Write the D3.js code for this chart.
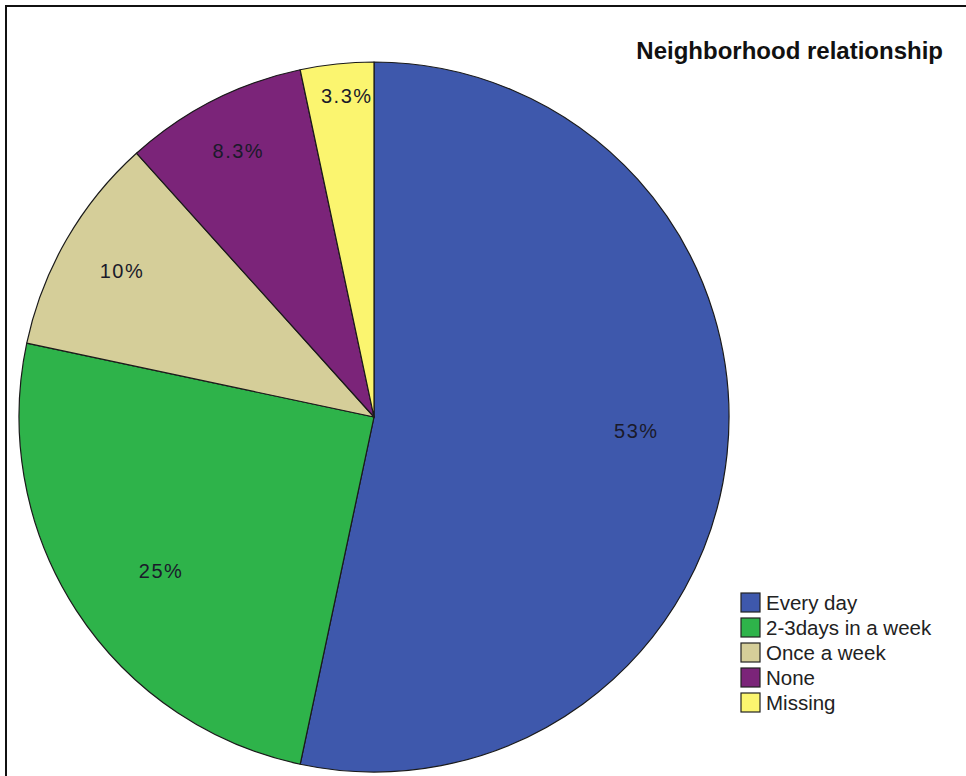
<!DOCTYPE html>
<html>
<head>
<meta charset="utf-8">
<script src="https://cdn.jsdelivr.net/npm/d3@7"></script>
<style>
html,body{margin:0;padding:0;background:#fff;}
svg{display:block;}
</style>
</head>
<body>
<svg id="chart" width="966" height="776"></svg>
<script>
const categories = ["Every day", "2-3days in a week", "Once a week", "None", "Missing"];
const counts = [32, 15, 6, 5, 2];
const percentLabels = ["53%", "25%", "10%", "8.3%", "3.3%"];
const colors = ["#3E58AC", "#2EB34A", "#D5CE99", "#7B2479", "#FBF56F"];
const title = "Neighborhood relationship";

const svg = d3.select("#chart");
const W = 966, H = 776;

// frame
svg.append("rect").attr("x", 6).attr("y", 6).attr("width", W + 20).attr("height", H + 20)
  .attr("fill", "none").attr("stroke", "#111").attr("stroke-width", 2);

const cx = 374, cy = 417, R = 355;
const total = d3.sum(counts);
const data = categories.map((c, i) => ({cat: c, value: counts[i], label: percentLabels[i], color: colors[i]}));

const pie = d3.pie().value(d => d.value).sort(null).startAngle(0).endAngle(2 * Math.PI);
const arcs = pie(data);
const arc = d3.arc().innerRadius(0).outerRadius(R);

const g = svg.append("g").attr("transform", `translate(${cx},${cy})`);
g.selectAll("path.slice").data(arcs).join("path")
  .attr("class", "slice")
  .attr("d", arc)
  .attr("fill", d => d.data.color)
  .attr("stroke", "#1a1a1a")
  .attr("stroke-width", 1.2)
  .attr("stroke-linejoin", "round");

g.selectAll("text.lbl").data(arcs).join("text")
  .attr("class", "lbl")
  .attr("transform", d => {
    const frac = d.data.value / total;
    const k = Math.max(0.74, 0.95 - 1.3 * frac);
    const a = (d.startAngle + d.endAngle) / 2 - (frac > 0.2 ? 0.05 : 0) + (frac < 0.05 ? 0.02 : 0);
    return `translate(${Math.sin(a) * R * k},${-Math.cos(a) * R * k})`;
  })
  .attr("text-anchor", "middle")
  .attr("dy", "0.35em")
  .attr("font-family", "'Liberation Sans', Arial, sans-serif")
  .attr("font-size", 20)
  .attr("letter-spacing", 1.5)
  .attr("fill", "#1a1a2a")
  .text(d => d.data.label);

// title
svg.append("text")
  .attr("x", 943).attr("y", 59)
  .attr("text-anchor", "end")
  .attr("font-family", "'Liberation Sans', Arial, sans-serif")
  .attr("font-weight", "bold")
  .attr("font-size", 24)
  .attr("fill", "#111")
  .text(title);

// legend
const lg = svg.append("g").attr("transform", "translate(741,593)");
const rowH = 25;
const rows = lg.selectAll("g").data(data).join("g")
  .attr("transform", (d, i) => `translate(0,${i * rowH})`);
rows.append("rect").attr("x", 0).attr("y", 0).attr("width", 19).attr("height", 19)
  .attr("fill", d => d.color).attr("stroke", "#222").attr("stroke-width", 1.2);
rows.append("text").attr("x", 25).attr("y", 10).attr("dy", "0.35em")
  .attr("font-family", "'Liberation Sans', Arial, sans-serif")
  .attr("font-size", 20.5)
  .attr("fill", "#222")
  .text(d => d.cat);
</script>
</body>
</html>
